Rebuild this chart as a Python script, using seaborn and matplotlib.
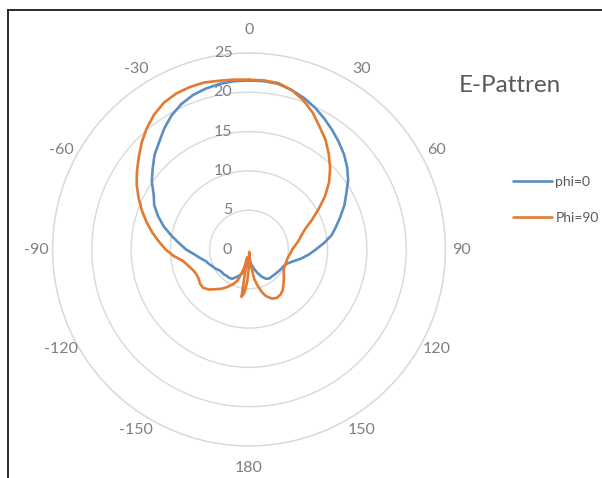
import numpy as np
import pandas as pd
import matplotlib
matplotlib.use("Agg")
import matplotlib.pyplot as plt
from matplotlib.lines import Line2D
import seaborn as sns

# ---- data ----
angles_deg = ([0, 5, 10, 15, 20, 25, 30, 35, 40, 45, 50, 55, 60, 65, 70, 75, 80, 85, 90,
               95, 100, 105, 110, 115, 120, 125, 130, 135, 140, 145, 150, 155]
              + [160, 163, 166, 170, 174, 177, 180, 183, 186, 189, 192, 195, 200]
              + [205, 210, 215, 220, 225, 230, 235, 240, 245, 250, 255, 260, 265, 270,
                 275, 280, 285, 290, 295, 300, 305, 310, 315, 320, 325, 330, 335, 340,
                 345, 350, 355, 360])
phi0 = ([21.5, 21.5, 21.4, 21.0, 20.5, 19.9, 19.2, 18.5, 17.8, 17.1, 16.3, 15.4, 14.3,
         13.4, 12.4, 11.5, 10.7, 9.6, 8.5, 7.6, 6.7, 5.8, 5.2, 4.9, 4.8, 4.7, 4.6, 4.55,
         4.5, 4.5, 4.3, 3.8]
        + [3.2, 2.8, 2.5, 2.0, 1.6, 1.4, 1.4, 1.5, 1.8, 2.2, 2.7, 3.1, 3.5]
        + [3.9, 4.3, 4.4, 4.4, 4.5, 4.5, 4.6, 4.9, 5.1, 5.4, 5.7, 6.3, 7.0, 8.0, 8.9,
           10.0, 11.2, 12.3, 13.3, 14.0, 15.1, 16.0, 17.0, 17.8, 18.8, 19.7, 20.4, 20.9,
           21.2, 21.4, 21.5, 21.5])
phi90 = ([21.6, 21.6, 21.5, 21.0, 20.2, 19.2, 18.0, 17.0, 15.8, 14.6, 13.3, 11.8, 10.2,
          8.8, 7.6, 6.9, 6.4, 5.9, 5.5, 5.3, 5.1, 5.0, 5.0, 5.0, 5.1, 5.4, 5.8, 6.2, 6.7,
          7.0, 7.1, 6.9]
         + [6.3, 5.7, 4.9, 3.8, 1.8, 0.3, 2.0, 4.0, 5.5, 6.1, 1.0, 2.5, 4.2]
         + [4.9, 5.5, 6.1, 6.6, 7.2, 7.6, 7.6, 7.4, 7.4, 7.6, 8.0, 8.5, 9.6, 10.6, 11.5,
            12.5, 13.5, 14.5, 15.5, 16.5, 17.4, 18.3, 19.3, 20.2, 21.0, 21.6, 21.9, 22.0,
            22.0, 21.8, 21.7, 21.6])
series_names = ["phi=0", "Phi=90"]
series_colors = ["#5b8ec4", "#e27a34"]
theta_ticks = [0, 30, 60, 90, 120, 150, 180, 210, 240, 270, 300, 330]
theta_labels = ["0", "30", "60", "90", "120", "150", "180", "-150", "-120", "-90", "-60", "-30"]
r_ticks = [0, 5, 10, 15, 20, 25]
r_labels = ["0", "5", "10", "15", "20", "25"]
title = "E-Pattren"

df = pd.concat([
    pd.DataFrame({"theta": np.deg2rad(angles_deg), "r": phi0, "series": series_names[0]}),
    pd.DataFrame({"theta": np.deg2rad(angles_deg), "r": phi90, "series": series_names[1]}),
], ignore_index=True)

sns.set_style("white")
plt.rcParams["font.family"] = ["Lato", "DejaVu Sans"]

W, H = 602, 478
fig = plt.figure(figsize=(W / 100, H / 100), dpi=100)
fig.patch.set_facecolor("white")

cx, cy, R = 249, 249.5, 196.5
ax = fig.add_axes([(cx - R) / W, (H - cy - R) / H, 2 * R / W, 2 * R / H], projection="polar")
ax.set_facecolor("white")
ax.set_theta_zero_location("N")
ax.set_theta_direction(-1)

sns.lineplot(data=df, x="theta", y="r", hue="series", palette=series_colors,
             sort=False, estimator=None, linewidth=1.9, ax=ax)

rmax = r_ticks[-1]
ax.set_ylim(0, rmax)
ax.set_yticks(r_ticks)
ax.set_yticklabels([])
ax.yaxis.grid(True, color="#d9d9d9", linewidth=1.0)
ax.xaxis.grid(False)
ax.spines["polar"].set_color("#d9d9d9")
ax.spines["polar"].set_linewidth(1.0)
ax.set_xticks(np.deg2rad(theta_ticks))
ax.set_xticklabels([])
ax.tick_params(axis="x", length=0)
ax.set_xlabel("")
ax.set_ylabel("")

# angular labels placed just outside the outer ring (nudged sideways like Excel does)
for ang, lab in zip(theta_ticks, theta_labels):
    dist = 219 if ang in (0, 180) else 212.5
    a = ang + 2.3 * np.sin(np.deg2rad(2 * ang))
    ax.text(np.deg2rad(a), rmax * dist / R, lab, ha="center", va="center",
            fontsize=11.5, color="#7f7f7f", clip_on=False)

for rv, lab in zip(r_ticks, r_labels):
    ax.annotate(lab, xy=(0, rv), xytext=(-12, 0), textcoords="offset points",
                ha="right", va="center", fontsize=11.5, color="#7f7f7f",
                annotation_clip=False)

leg = ax.get_legend()
if leg is not None:
    leg.remove()
handles = [Line2D([0], [0], color=c, lw=1.9) for c in series_colors]
fig.legend(handles, series_names, loc="center left",
           bbox_to_anchor=(513 / W, 1 - 200 / H), frameon=False,
           fontsize=10, labelcolor="#595959", handlelength=2.8,
           handletextpad=0.25, labelspacing=1.7, borderpad=0, borderaxespad=0)

fig.text(510 / W, 1 - 85 / H, title, ha="center", va="center",
         fontsize=17.5, color="#595959")

# outer frame (top and left edges visible in the reference)
fig.add_artist(Line2D([8 / W, 1.0], [1 - 10 / H, 1 - 10 / H], color="#1a1a1a", lw=1.3,
                      transform=fig.transFigure))
fig.add_artist(Line2D([8 / W, 8 / W], [0, 1 - 10 / H], color="#1a1a1a", lw=1.3,
                      transform=fig.transFigure))

fig.savefig("out.png", dpi=100)
